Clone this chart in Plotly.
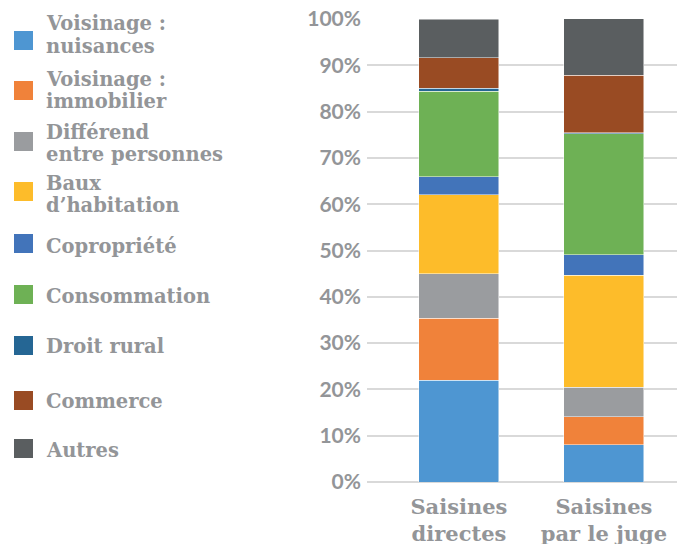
import plotly.graph_objects as go

categories = ["Saisines<br>directes", "Saisines<br>par le juge"]
series_names = ["Voisinage : nuisances", "Voisinage : immobilier", "Différend entre personnes",
                "Baux d’habitation", "Copropriété", "Consommation", "Droit rural", "Commerce", "Autres"]
legend_lines = [["Voisinage :", "nuisances"], ["Voisinage :", "immobilier"], ["Différend", "entre personnes"],
                ["Baux", "d’habitation"], ["Copropriété"], ["Consommation"], ["Droit rural"], ["Commerce"], ["Autres"]]
nuisances = [22.0, 8.1]
immobilier = [13.4, 6.0]
differend = [9.6, 6.4]
baux = [17.0, 24.2]
copropriete = [3.9, 4.4]
consommation = [18.5, 26.1]
droit_rural = [0.6, 0.2]
commerce = [6.6, 12.5]
autres = [8.4, 12.2]
values = [nuisances, immobilier, differend, baux, copropriete, consommation, droit_rural, commerce, autres]
colors = ["#4E96D2", "#F0823A", "#9A9C9F", "#FDBC2A", "#4274BA", "#6EB155", "#256694", "#994B23", "#5A5E60"]
tick_vals = [0, 10, 20, 30, 40, 50, 60, 70, 80, 90, 100]
tick_text = [f"{v}%" for v in tick_vals]

OFF = 8  # page body margin
W, H = 685, 544
L, R, T, B = 367 - OFF, 11, 19 - OFF, 544 - (482 - OFF)
pw, ph = W - L - R, H - T - B

def px2paper_x(px):
    return (px - OFF - L) / pw

def px2paper_y(py):
    return (H - B - (py - OFF)) / ph

fig = go.Figure()
for name, vals, col in zip(series_names, values, colors):
    fig.add_trace(go.Bar(x=categories, y=vals, name=name, marker_color=col,
                         marker_line=dict(width=0.8, color="rgba(255,255,255,0.6)"),
                         width=0.552, showlegend=False))

gray = "#939598"
serif = "DejaVu Serif"
sq_centers = [40.5, 90.5, 141.5, 191.5, 243.5, 294.5, 345.5, 400.5, 448.5]
line_centers = [[24, 46], [79, 101], [132, 155], [183, 205], [246], [296], [346], [401], [450]]
shapes = []
annotations = []
for col, yc, lines, lcs in zip(colors, sq_centers, legend_lines, line_centers):
    shapes.append(dict(type="rect", xref="paper", yref="paper",
                       x0=px2paper_x(14), x1=px2paper_x(33),
                       y0=px2paper_y(yc + 9.5), y1=px2paper_y(yc - 9.5),
                       fillcolor=col, line_width=0))
    for txt, ly in zip(lines, lcs):
        annotations.append(dict(text=txt, xref="paper", yref="paper",
                                x=px2paper_x(44), y=px2paper_y(ly), xanchor="left", yanchor="middle",
                                showarrow=False,
                                font=dict(family=serif, size=19.5, color=gray, weight="bold")))

fig.update_layout(
    width=W, height=H, barmode="stack",
    margin=dict(l=L, r=R, t=T, b=B),
    plot_bgcolor="white", paper_bgcolor="white",
    shapes=shapes, annotations=annotations,
    xaxis=dict(range=[-0.634, -0.634 + pw / 145], showgrid=False, showline=False, ticks="",
               automargin=False,
               tickfont=dict(family=serif, size=21, color=gray, weight="bold"), ticklabelstandoff=10),
    yaxis=dict(range=[0, 100], tickvals=tick_vals, ticktext=tick_text, showgrid=True, automargin=False,
               gridcolor="#D9D9D9", gridwidth=1.5, zeroline=True, zerolinecolor="#D9D9D9", zerolinewidth=1.5,
               tickfont=dict(family="Lato", size=21, color=gray, weight="bold"), ticklabelstandoff=5,
               ticklabeloverflow="allow"),
)
fig.write_html("out.html")
